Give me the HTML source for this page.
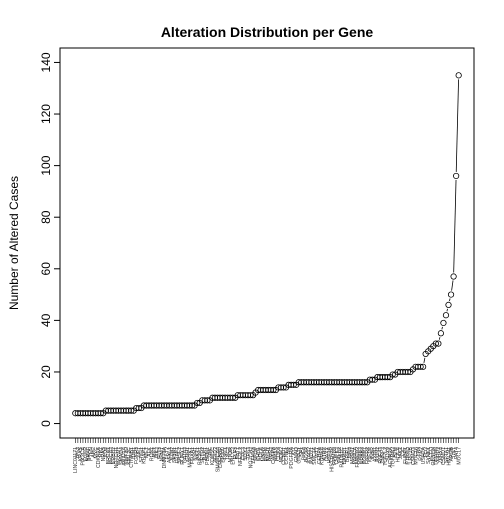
<!DOCTYPE html>
<html><head><meta charset="utf-8"><style>
body{margin:0;background:#fff}
svg text{font-family:"Liberation Sans",sans-serif}
</style></head><body>
<svg id="chart" width="504" height="504" viewBox="0 0 504 504" xmlns="http://www.w3.org/2000/svg">
<rect width="504" height="504" fill="#fff"/>
<text x="267" y="37" text-anchor="middle" font-size="14" font-weight="bold">Alteration Distribution per Gene</text>
<text transform="translate(18,243) rotate(-90)" text-anchor="middle" font-size="12">Number of Altered Cases</text>
<rect x="60" y="48" width="414" height="390" fill="none" stroke="#000" stroke-width="1"/>
<g id="marks"></g>
</svg>
<script>
const counts=[[4,12],[5,12],[6,3],[7,21],[8,2],[9,4],[10,10],[11,7],[12,1],[13,8],[14,4],[15,4],[16,28],[17,3],[18,6],[19,2],[20,6],[21,1],[22,4]];
const tailValues=[27,28,29,30,31,31,35,39,42,46,50,57,96,135];
const yTicks=[0,20,40,60,80,100,120,140];
const geneBase=["LINC01171","TP53","KRAS","PIK3CA","EGFR","BRAF","PTEN","APC","MYC","CDKN2A","RB1","NRAS","ATM","BRCA1","BRCA2","ERBB2","NOTCH1","FBXW7","SMAD4","ARID1A","KMT2D","KMT2C","CTNNB1","IDH1","FGFR3","NF1","STK11","KEAP1","MET","ALK","ROS1","RET","JAK2","FLT3","NPM1","DNMT3A","TET2","ASXL1","EZH2","SF3B1","U2AF1","SRSF2","RUNX1","GATA3","CDH1","MAP3K1","FOXA1","ESR1","AKT1","PIK3R1","SETD2","BAP1","PBRM1","VHL","KDM5C","ARID2","SMARCA4","CREBBP","EP300","TSC1","TSC2","MTOR","ERCC2","ELF3","FAT1","NFE2L2","CUL3","SOX2","TP63","NOTCH2","ZFHX3","SPOP","CHD1","POLE","MSH2","MSH6","MLH1","PMS2","CASP8","HRAS","CDK4","MDM2","CCND1","CCNE1","AR","PDGFRA","KIT","GNAQ","GNA11","SF1","PHF6","BCOR","STAG2","RAD21","SMC1A","WT1","CEBPA","KDM6A","ATRX","DAXX","H3F3A","HIST1H3B","PPM1D","CHEK2","PALB2","RAD51C","BARD1","BRIP1","NBN","MRE11","FANCA","FANCD2","ERBB3","ERBB4","FGFR1","FGFR2","IGF1R","INSR","AXIN1","AXIN2","RNF43","ZNRF3","TCF7L2","SOX9","ACVR2A","TGFBR2","B2M","HLA-A","JAK1","CIC","FUBP1","PTPRD","LRP1B","CSMD3","MUC16","TTN","RYR2","USH2A","FLG","SYNE1","PCLO","OBSCN","DNAH5","XIRP2","ZFHX4","CSMD1","SPTA1","HMCN1","APOB","DST","FAT4","MUC17","LRP2"];
const values=[];
counts.forEach(c=>{for(let k=0;k<c[1];k++)values.push(c[0]);});
tailValues.forEach(v=>values.push(v));
const genes=values.map((v,i)=>geneBase[i%geneBase.length]);
const n=values.length;
const L=60,R=474,T=48,B=438;
const xr=[1-0.04*(n-1),n+0.04*(n-1)];
function xs(i){return L+(i+1-xr[0])/(xr[1]-xr[0])*(R-L);}
function ys(v){return B-(v-(-5.6))/(145.6-(-5.6))*(B-T);}
const ns="http://www.w3.org/2000/svg";
const g=document.getElementById('marks');
function mk(t,a){const e=document.createElementNS(ns,t);for(const k in a)e.setAttribute(k,a[k]);g.appendChild(e);return e;}
let ya=mk('line',{x1:L,x2:L,y1:ys(0),y2:ys(140),stroke:'#000'});


yTicks.forEach(t=>{
 const l=mk('line',{x1:L-6,x2:L,y1:ys(t),y2:ys(t),stroke:'#000'});
 
 
 const tx=mk('text',{transform:`translate(${L-10},${ys(t)}) rotate(-90)`,'text-anchor':'middle','font-size':'12'});
 tx.textContent=t;
 
 
});
let xa=mk('line',{x1:xs(0),x2:xs(n-1),y1:B,y2:B,stroke:'#000'});


genes.forEach((name,i)=>{
 const l=mk('line',{x1:xs(i),x2:xs(i),y1:B,y2:B+5,stroke:'#000','stroke-width':'0.6'});
 
 
 const tx=mk('text',{transform:`translate(${xs(i)+1.8},${B+9}) rotate(-90)`,'text-anchor':'end','font-size':'5.2',fill:'#333'});
 tx.textContent=name;
 
 
});
for(let i=0;i<n-1;i++){
 const x1=xs(i),y1=ys(values[i]),x2=xs(i+1),y2=ys(values[i+1]);
 const d=Math.hypot(x2-x1,y2-y1),gap=4;
 if(d>2*gap){
  const ux=(x2-x1)/d,uy=(y2-y1)/d;
  const s=mk('line',{x1:x1+ux*gap,y1:y1+uy*gap,x2:x2-ux*gap,y2:y2-uy*gap,stroke:'#000','stroke-width':'0.8'});
  
  
 }
}
values.forEach((v,i)=>{
 const c=mk('circle',{cx:xs(i),cy:ys(v),r:2.7,fill:'none',stroke:'#000','stroke-width':'0.8'});
 
 
});
</script>
</body></html>
